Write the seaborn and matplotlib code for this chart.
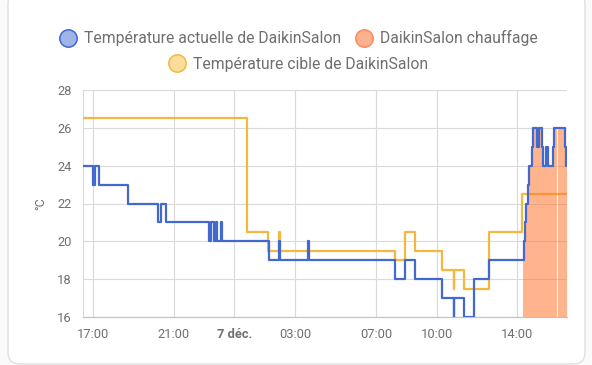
import numpy as np
import pandas as pd
import matplotlib
matplotlib.use("Agg")
import matplotlib.pyplot as plt
from matplotlib.lines import Line2D
from matplotlib.patches import FancyBboxPatch
from matplotlib.transforms import IdentityTransform
import seaborn as sns

# ---- data (hours since 00:00 on 6 Dec) ----
actual_t = [16.5, 17.0, 17.13, 17.3, 18.73, 20.22, 20.35, 20.63, 22.74, 22.86, 22.98, 23.07,
            23.14, 23.33, 23.37, 25.71, 26.22, 26.27, 27.64, 27.69, 31.95, 32.43, 32.92,
            34.26, 34.84, 34.88, 35.36, 35.85, 36.58, 38.30, 38.37, 38.43, 38.50, 38.56,
            38.71, 38.76, 38.96, 39.07, 39.20, 39.28, 39.42, 39.49, 39.76, 39.81, 40.37,
            40.42, 40.45]
actual_v = [24, 23, 24, 23, 22, 21, 22, 21, 20, 21, 20, 21,
            20, 21, 20, 19, 20, 19, 20, 19, 18, 19, 18,
            17, 16, 17, 16, 18, 19, 20, 21, 22, 23, 24,
            25, 26, 25, 26, 25, 24, 25, 24, 25, 26, 25,
            24, 24]

target_t = [16.5, 24.61, 25.67, 26.20, 26.25, 31.95, 32.43, 32.92, 34.26, 34.84, 34.88,
            35.36, 36.58, 38.22, 40.45]
target_v = [26.5, 20.5, 19.5, 20.5, 19.5, 19, 20.5, 19.5, 18.5, 17.5, 18.5,
            17.5, 20.5, 22.5, 22.5]

heat_start = [38.27, 39.99]
heat_end = [39.97, 40.45]

tick_pos = [17, 21, 24, 27, 31, 34, 38]
tick_lab = ["17:00", "21:00", "7 déc.", "03:00", "07:00", "10:00", "14:00"]
y_ticks = [16, 18, 20, 22, 24, 26, 28]

labels = ["Température actuelle de DaikinSalon", "DaikinSalon chauffage",
          "Température cible de DaikinSalon"]

BLUE = "#4269d0"
YELLOW = "#f5b83e"
ORANGE = "#ff7732"
TXT = "#6f6f6f"
GRID = "#dadada"

sns.set_theme(style="white")
plt.rcParams["font.family"] = ["Roboto", "DejaVu Sans"]

fig = plt.figure(figsize=(5.92, 3.65), dpi=100)
fig.patch.set_facecolor("#fafafa")
card = FancyBboxPatch((8, 1), 577, 372, boxstyle="round,pad=0,rounding_size=12",
                      transform=IdentityTransform(), facecolor="white",
                      edgecolor="#e0e0e0", linewidth=1.0, zorder=-5)
fig.patches.append(card)

ax = fig.add_axes([82.7 / 592, 1 - 317 / 365, (567 - 82.7) / 592, (317 - 90) / 365])
ax.set_zorder(2)
ax.set_facecolor("none")

df_act = pd.DataFrame({"t": actual_t, "v": actual_v})
df_tgt = pd.DataFrame({"t": target_t, "v": target_v})

sns.lineplot(data=df_tgt, x="t", y="v", ax=ax, drawstyle="steps-post", color=YELLOW,
             lw=1.6, estimator=None, sort=False, zorder=3)

# heating fill follows the actual temperature inside each heating interval
at = np.array(actual_t)
av = np.array(actual_v, dtype=float)
for s, e in zip(heat_start, heat_end):
    inside = (at > s) & (at < e)
    xs = np.concatenate([[s], at[inside], [e]])
    v0 = av[np.searchsorted(at, s, side="right") - 1]
    ve = av[np.searchsorted(at, e, side="right") - 1]
    ys = np.concatenate([[v0], av[inside], [ve]])
    ax.fill_between(xs, 16, ys, step="post", color=ORANGE, alpha=0.55, lw=0, zorder=4)

sns.lineplot(data=df_act, x="t", y="v", ax=ax, drawstyle="steps-post", color=BLUE,
             lw=1.6, estimator=None, sort=False, zorder=5)

ax.set_xlim(16.5, 40.45)
ax.set_ylim(16, 28)
ax.set_xticks(tick_pos)
ax.set_xticklabels(tick_lab)
ax.set_yticks(y_ticks)
ax.set_yticklabels([str(v) for v in y_ticks])
for lab in ax.get_xticklabels():
    if lab.get_text() == "7 déc.":
        lab.set_fontweight("bold")
ax.grid(True, color=GRID, lw=0.8)
ax.tick_params(axis="both", colors=GRID, labelcolor=TXT, labelsize=9.3, length=5,
               width=0.8, pad=3)
ax.set_xlabel("")
ax.set_ylabel("°C", color=TXT, fontsize=9, labelpad=7)
for sp in ["top", "right"]:
    ax.spines[sp].set_visible(False)
ax.spines["left"].set_color(GRID)
ax.spines["left"].set_linewidth(0.8)
ax.spines["bottom"].set_color("#c4c4c4")
ax.spines["bottom"].set_linewidth(0.9)

def handle(face, edge):
    return Line2D([], [], marker="o", ls="none", markersize=12.5,
                  markerfacecolor=face, markeredgecolor=edge, markeredgewidth=1.1)

h = [handle("#a1b4e8", BLUE), handle("#ffb08c", "#ff8a5c"), handle("#fadd9a", YELLOW)]
leg1 = fig.legend(h[:2], labels[:2], loc="center", bbox_to_anchor=(0.505, 1 - 38 / 365),
                  ncol=2, frameon=False, fontsize=11.3, handletextpad=0.5,
                  columnspacing=1.0, labelcolor=TXT, handlelength=1.0)
leg2 = fig.legend(h[2:], labels[2:], loc="center", bbox_to_anchor=(0.505, 1 - 64 / 365),
                  ncol=1, frameon=False, fontsize=11.3, handletextpad=0.5,
                  labelcolor=TXT, handlelength=1.0)

fig.savefig("out.png", dpi=100, facecolor=fig.get_facecolor())
